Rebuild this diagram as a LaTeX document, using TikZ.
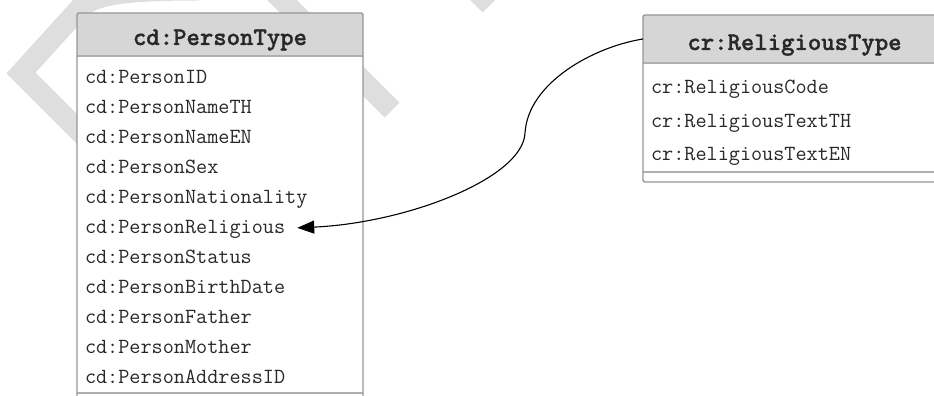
\documentclass[tikz,border=0pt]{standalone}
\usepackage{fontspec}
\newfontfamily\titlefont{lmmonolt10-bold}[Extension=.otf,FakeBold=1.2]
\usetikzlibrary{arrows.meta}
\begin{document}
\begin{tikzpicture}[x=1pt,y=1pt,
  fieldtext/.style={text=textColor,anchor=base west,inner sep=0pt,outer sep=0pt,font=\fontsize{21.6}{24}\selectfont\ttfamily},
  titletext/.style={text=textColor,anchor=base,inner sep=0pt,outer sep=0pt,font=\fontsize{25.5}{28}\selectfont\titlefont},
  headbox/.style={fill=headColor,draw=none,inner sep=0pt,outer sep=0pt,anchor=north west,rounded corners=2pt},
  boxline/.style={draw=lineColor,line width=1.4pt,rounded corners=2pt},
  sepline/.style={draw=sepColor,line width=1.4pt},
  wmstroke/.style={draw=wmColor,line width=21pt,line join=miter},
  assoc/.style={draw=black,line width=1.1pt,-{Triangle[length=17pt,width=13pt]}}]
\definecolor{textColor}{RGB}{40,40,40}
\definecolor{headColor}{RGB}{214,214,214}
\definecolor{lineColor}{RGB}{150,150,150}
\definecolor{sepColor}{RGB}{175,175,175}
\definecolor{wmColor}{RGB}{222,222,222}
\path[use as bounding box,fill=white] (0,0) rectangle (934,396);
\begin{scope}
\path[clip] (0,0) rectangle (934,396);
% watermark
\path[wmstroke] (200,406) .. controls (120,406) and (95,401) .. (80,388) -- (21,323) -- (95,249);
\path[wmstroke] (272,406) -- (392,286);
\path[wmstroke] (440,441) -- (490,391);

% cd:PersonType
\path[fill=white] (77,-10) rectangle (363,383);
\node[headbox,minimum width=286pt,minimum height=43pt] (PersonHead) at (77,383) {};
\path[sepline] (PersonHead.south west) -- (PersonHead.south east);
\path[sepline] (77,3) -- (363,3);
\path[boxline] (77,-10) rectangle (363,383);
\node[titletext] (PersonTitle) at (220,351) {cd:PersonType};
\node[fieldtext] (PersonID) at (85,312) {cd:PersonID};
\node[fieldtext] (PersonNameTH) at (85,282) {cd:PersonNameTH};
\node[fieldtext] (PersonNameEN) at (85,252) {cd:PersonNameEN};
\node[fieldtext] (PersonSex) at (85,222) {cd:PersonSex};
\node[fieldtext] (PersonNationality) at (85,192) {cd:PersonNationality};
\node[fieldtext] (PersonReligious) at (85,162) {cd:PersonReligious};
\node[fieldtext] (PersonStatus) at (85,132) {cd:PersonStatus};
\node[fieldtext] (PersonBirthDate) at (85,102) {cd:PersonBirthDate};
\node[fieldtext] (PersonFather) at (85,72) {cd:PersonFather};
\node[fieldtext] (PersonMother) at (85,42) {cd:PersonMother};
\node[fieldtext] (PersonAddressID) at (85,12) {cd:PersonAddressID};

% cr:ReligiousType
\path[fill=white] (643,214) rectangle (946,381);
\node[headbox,minimum width=303pt,minimum height=48pt] (RelHead) at (643,381) {};
\path[sepline] (RelHead.south west) -- (RelHead.south east);
\path[sepline] (643,224) -- (946,224);
\path[boxline] (643,214) rectangle (946,381);
\node[titletext] (RelTitle) at (794.5,346) {cr:ReligiousType};
\node[fieldtext] (RelCode) at (651,302) {cr:ReligiousCode};
\node[fieldtext] (RelTextTH) at (651,268.5) {cr:ReligiousTextTH};
\node[fieldtext] (RelTextEN) at (651,235) {cr:ReligiousTextEN};

% association
\coordinate (RelBend) at (525,263);
\path[assoc] (RelHead.west) .. controls +(-50,-8) and +(3,50) .. (RelBend)
  .. controls +(-2,-45) and +(110,5) .. ([shift={(12,2)}]PersonReligious.east);
\end{scope}
\end{tikzpicture}
\end{document}
